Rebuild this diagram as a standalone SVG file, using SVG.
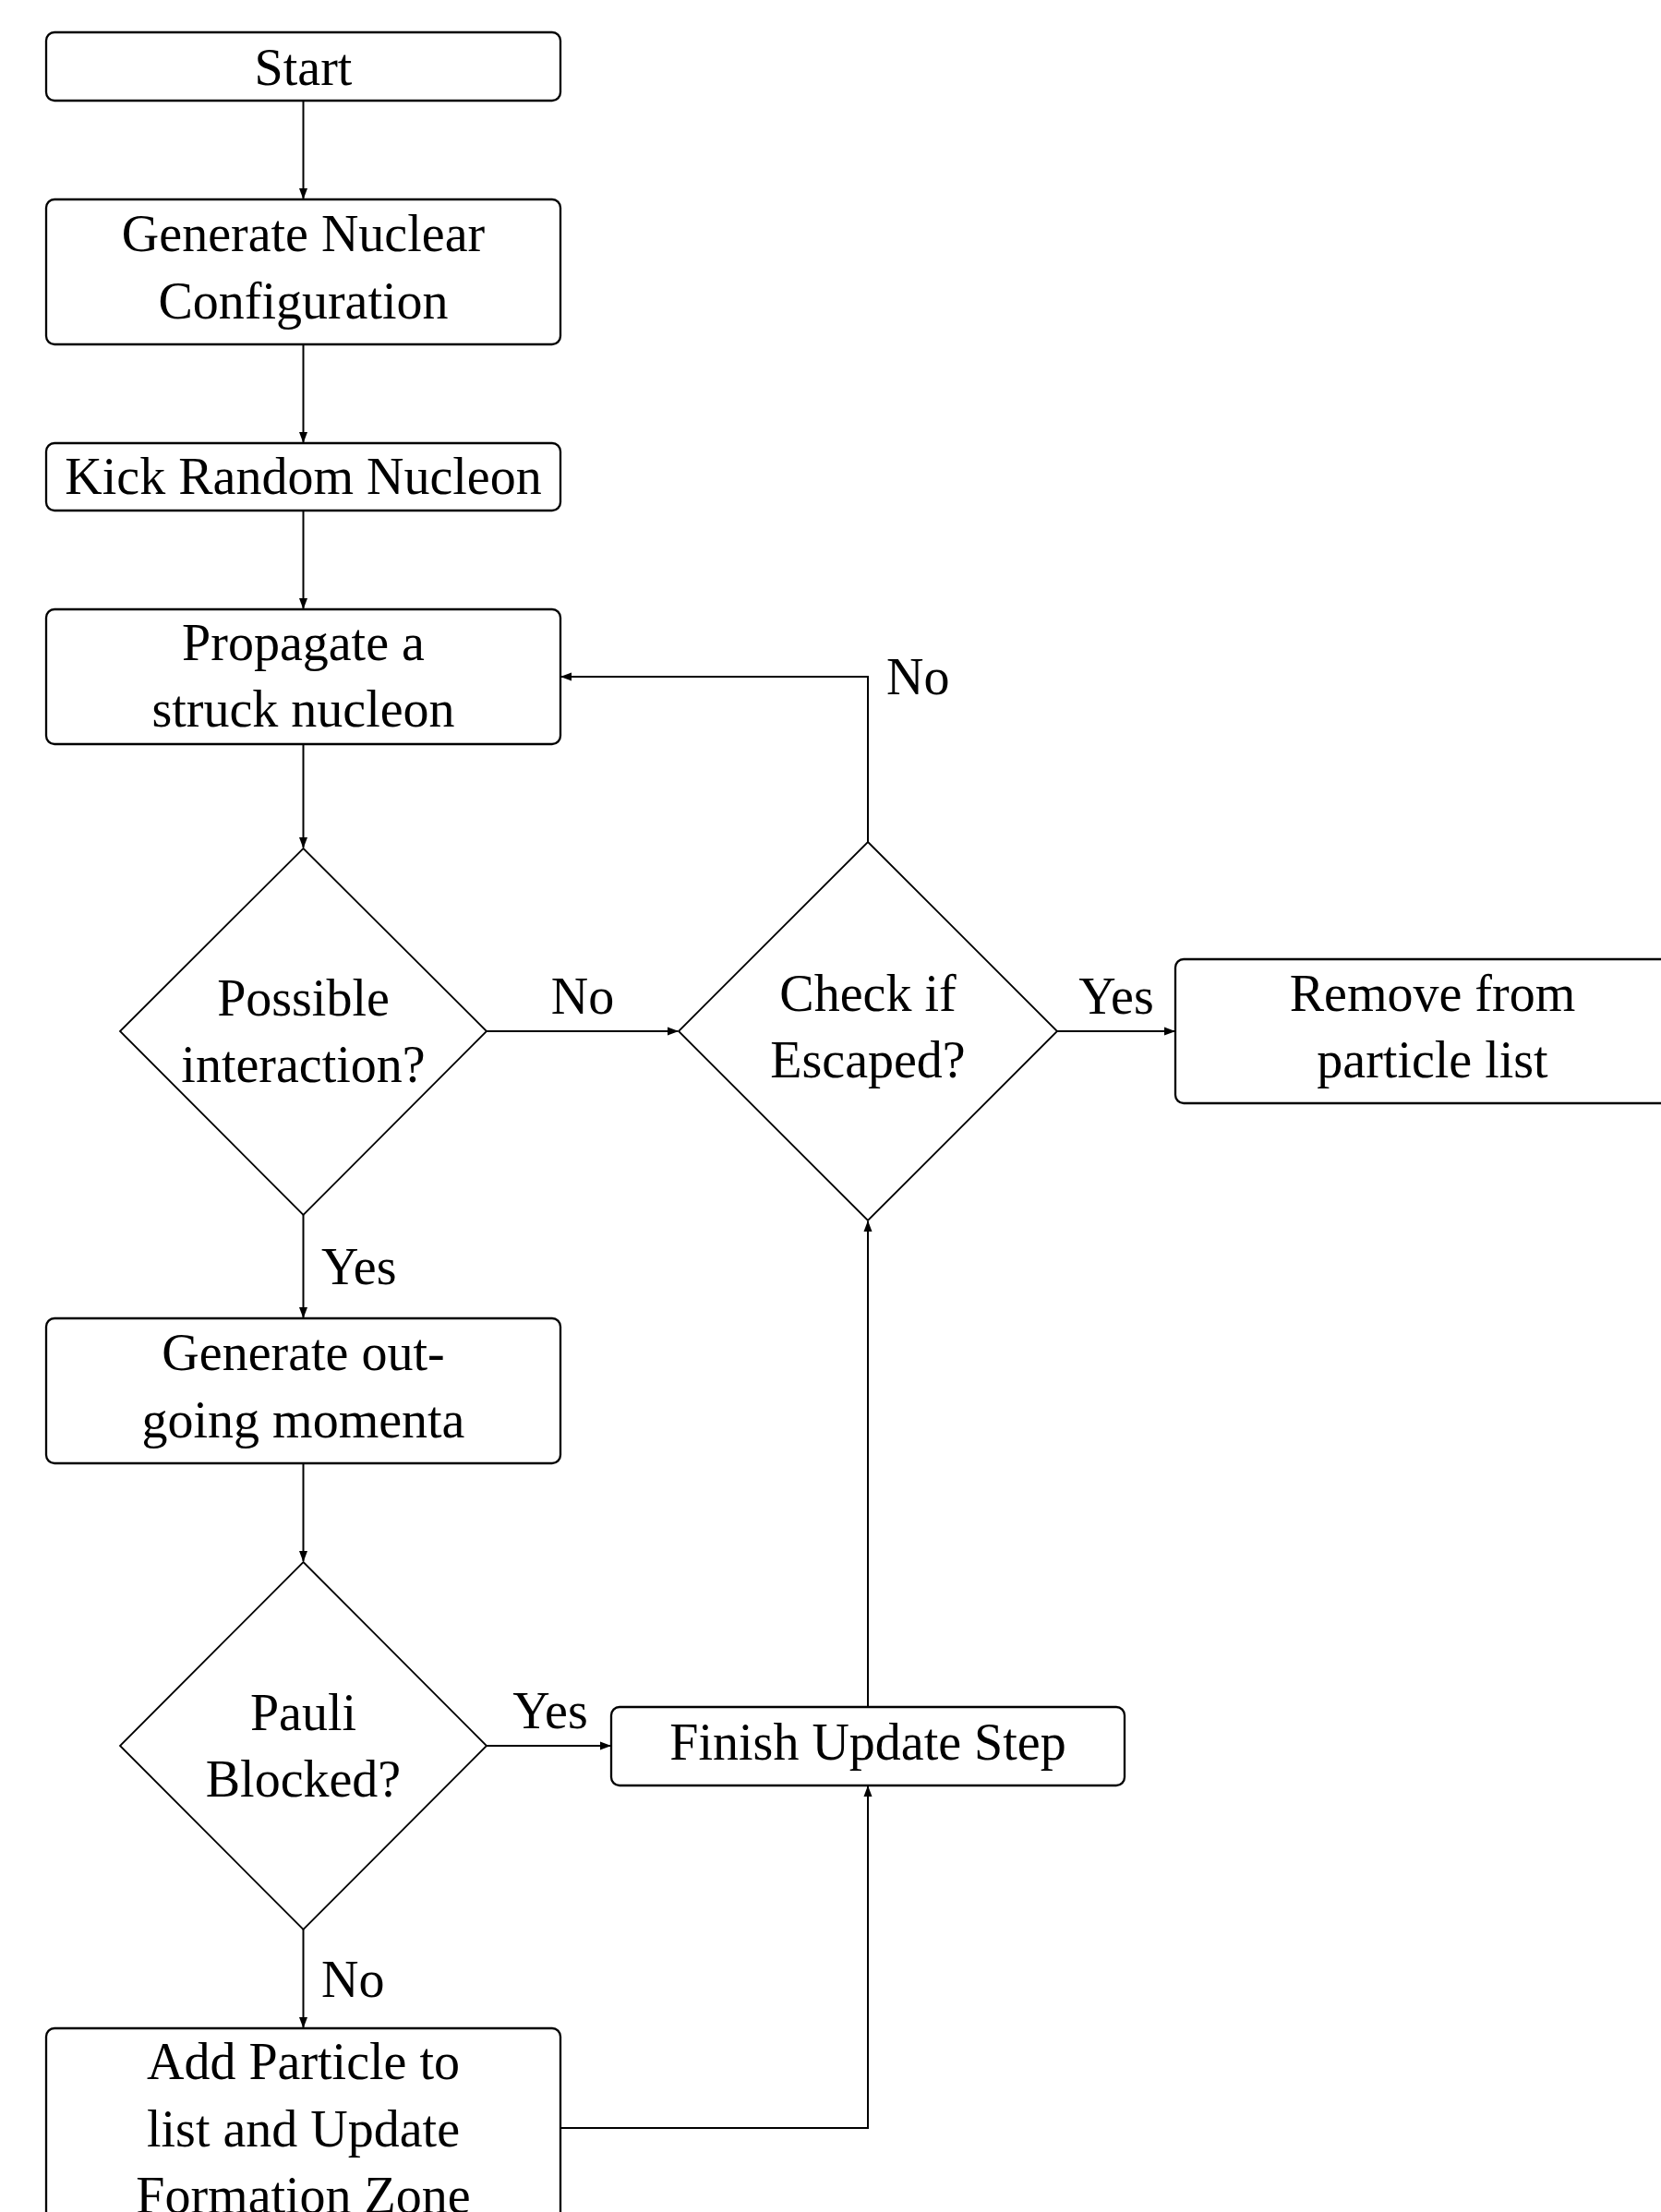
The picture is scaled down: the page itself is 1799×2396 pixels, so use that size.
<svg xmlns="http://www.w3.org/2000/svg" width="1799" height="2396" viewBox="0 0 1799 2396">
<style>
.box{fill:#fff;stroke:#000;stroke-width:2.3}
.dia{fill:#fff;stroke:#000;stroke-width:1.8}
.t{font-family:"Liberation Serif","DejaVu Serif",serif;font-size:56px;fill:#000;text-anchor:middle}
.lbl{font-family:"Liberation Serif","DejaVu Serif",serif;font-size:56px;fill:#000}
.c{fill:none;stroke:#000;stroke-width:2}
</style>
<defs>
<marker id="ah" markerWidth="12" markerHeight="10" refX="11" refY="5" orient="auto" markerUnits="userSpaceOnUse">
<path d="M0,0.5 L12,5 L0,9.5 Z" fill="#000"/>
</marker>
</defs>
<rect width="1799" height="2396" fill="#fff"/>
<g id="connectors">
<path class="c" d="M328.5,109 V215" marker-end="url(#ah)"/>
<path class="c" d="M328.5,373 V479" marker-end="url(#ah)"/>
<path class="c" d="M328.5,553 V659" marker-end="url(#ah)"/>
<path class="c" d="M328.5,806 V918" marker-end="url(#ah)"/>
<path class="c" d="M527,1117 H734" marker-end="url(#ah)"/>
<path class="c" d="M1145,1117 H1272" marker-end="url(#ah)"/>
<path class="c" d="M940,912 V733 H608" marker-end="url(#ah)"/>
<path class="c" d="M328.5,1316 V1427" marker-end="url(#ah)"/>
<path class="c" d="M328.5,1585 V1691" marker-end="url(#ah)"/>
<path class="c" d="M527,1891 H661" marker-end="url(#ah)"/>
<path class="c" d="M328.5,2090 V2196" marker-end="url(#ah)"/>
<path class="c" d="M607,2305 H940 V1935" marker-end="url(#ah)"/>
<path class="c" d="M940,1849 V1323" marker-end="url(#ah)"/>
<text class="lbl" x="631" y="1098" text-anchor="middle">No</text>
<text class="lbl" x="1209" y="1098" text-anchor="middle">Yes</text>
<text class="lbl" x="960" y="752">No</text>
<text class="lbl" x="348" y="1391">Yes</text>
<text class="lbl" x="596" y="1872" text-anchor="middle">Yes</text>
<text class="lbl" x="348" y="2163">No</text>
</g>
<g id="start">
<rect class="box" x="50" y="35" width="557" height="74" rx="9"/>
<text class="t" x="328.5" y="92">Start</text>
</g>
<g id="gen-nuclear">
<rect class="box" x="50" y="216" width="557" height="157" rx="9"/>
<text class="t" x="328.5" y="272">Generate Nuclear</text>
<text class="t" x="328.5" y="345">Configuration</text>
</g>
<g id="kick">
<rect class="box" x="50" y="480" width="557" height="73" rx="9"/>
<text class="t" x="328.5" y="535">Kick Random Nucleon</text>
</g>
<g id="propagate">
<rect class="box" x="50" y="660" width="557" height="146" rx="9"/>
<text class="t" x="328.5" y="715">Propagate a</text>
<text class="t" x="328.5" y="787">struck nucleon</text>
</g>
<g id="possible">
<polygon class="dia" points="328.5,919 527,1117 328.5,1316 130,1117"/>
<text class="t" x="328.5" y="1100">Possible</text>
<text class="t" x="328.5" y="1172">interaction?</text>
</g>
<g id="check">
<polygon class="dia" points="940,912 1145,1117 940,1322 735,1117"/>
<text class="t" x="940" y="1095">Check if</text>
<text class="t" x="940" y="1167">Escaped?</text>
</g>
<g id="remove">
<rect class="box" x="1273" y="1039" width="600" height="156" rx="9"/>
<text class="t" x="1551.5" y="1095">Remove from</text>
<text class="t" x="1551.5" y="1167">particle list</text>
</g>
<g id="gen-out">
<rect class="box" x="50" y="1428" width="557" height="157" rx="9"/>
<text class="t" x="328.5" y="1484">Generate out-</text>
<text class="t" x="328.5" y="1557">going momenta</text>
</g>
<g id="pauli">
<polygon class="dia" points="328.5,1692 527,1891 328.5,2090 130,1891"/>
<text class="t" x="328.5" y="1874">Pauli</text>
<text class="t" x="328.5" y="1946">Blocked?</text>
</g>
<g id="finish">
<rect class="box" x="662" y="1849" width="556" height="85" rx="9"/>
<text class="t" x="940" y="1906">Finish Update Step</text>
</g>
<g id="add">
<rect class="box" x="50" y="2197" width="557" height="260" rx="9"/>
<text class="t" x="328.5" y="2252">Add Particle to</text>
<text class="t" x="328.5" y="2325">list and Update</text>
<text class="t" x="328.5" y="2397">Formation Zone</text>
</g>
</svg>
